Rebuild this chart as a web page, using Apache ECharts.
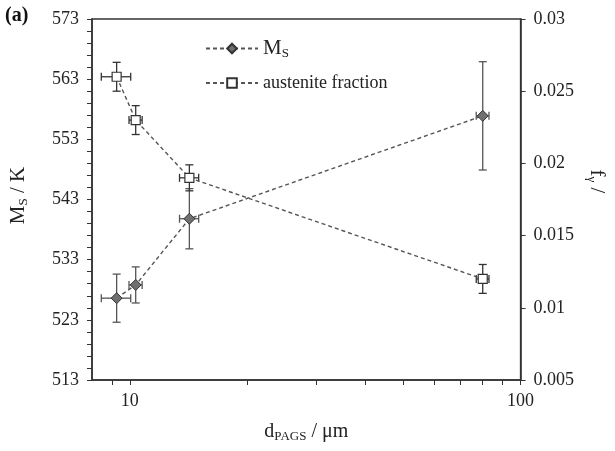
<!DOCTYPE html>
<html>
<head>
    <meta charset="utf-8">
    <title>Ms and austenite fraction vs PAGS</title>
    <script src="https://cdn.jsdelivr.net/npm/echarts@6/dist/echarts.min.js"></script>
    <style>
        html, body { margin: 0; padding: 0; background: #fff; }
        #chart { width: 615px; height: 451px; }
    </style>
</head>
<body>
<div id="chart"></div>
<script type="text/javascript">
    // ----- data -----
    var dPags = [9.25, 10.35, 14.2, 80];      // prior austenite grain size, um
    var dErr = [0.8, 0.4, 0.8, 3];
    var msVals = [526.6, 528.8, 539.8, 556.9]; // Ms, K
    var msErr = [4, 3, 5, 9];
    var fVals = [0.026, 0.023, 0.019, 0.012];  // austenite fraction
    var fErr = [0.001, 0.001, 0.0009, 0.001];

    var xLabels = [10, 100];
    var xTicks = [9, 10, 20, 30, 40, 50, 60, 70, 80, 90, 100];
    var msLabels = [513, 523, 533, 543, 553, 563, 573];

    var msMinor = [];
    for (var v = 513; v <= 573; v += 2) msMinor.push(v);

    var msData = dPags.map(function (d, i) { return [d, msVals[i]]; });
    var fData = dPags.map(function (d, i) { return [d, fVals[i]]; });
    var msBars = dPags.map(function (d, i) { return [d, msVals[i], dErr[i], msErr[i]]; });
    var fBars = dPags.map(function (d, i) { return [d, fVals[i], dErr[i], fErr[i]]; });

    var axisColor = '#333';
    var serif = 'Liberation Serif';

    // error bars with small caps
    function errorBars(color) {
        return function (params, api) {
            var x = api.value(0), y = api.value(1), dx = api.value(2), dy = api.value(3);
            var l = api.coord([x - dx, y]), r = api.coord([x + dx, y]);
            var t = api.coord([x, y + dy]), b = api.coord([x, y - dy]);
            var cap = 4;
            var st = { stroke: color, lineWidth: 1.3 };
            var seg = function (x1, y1, x2, y2) {
                return { type: 'line', shape: { x1: x1, y1: y1, x2: x2, y2: y2 }, style: st };
            };
            return {
                type: 'group',
                children: [
                    seg(l[0], l[1], r[0], r[1]),
                    seg(l[0], l[1] - cap, l[0], l[1] + cap),
                    seg(r[0], r[1] - cap, r[0], r[1] + cap),
                    seg(t[0], t[1], b[0], b[1]),
                    seg(t[0] - cap, t[1], t[0] + cap, t[1]),
                    seg(b[0] - cap, b[1], b[0] + cap, b[1])
                ]
            };
        };
    }

    var chart = echarts.init(document.getElementById('chart'));
    chart.setOption({
        animation: false,
        backgroundColor: '#fff',
        textStyle: { fontFamily: serif, color: '#222' },
        grid: {
            left: 92, right: 94, top: 19, bottom: 71,
            show: true, borderColor: axisColor, borderWidth: 1.5
        },
        graphic: [{
            type: 'text', left: 5, top: 6,
            style: { text: '(a)', font: 'bold 20px "Liberation Serif"', fill: '#111' }
        }],
        legend: {
            left: 200, top: 32, orient: 'vertical', itemGap: 14,
            itemWidth: 52, itemHeight: 12,
            data: ['Ms', 'austenite fraction'],
            formatter: function (name) {
                return name === 'Ms' ? '{m|M}{s|S}' : '{t|austenite fraction}';
            },
            textStyle: {
                fontFamily: serif, color: '#222',
                rich: {
                    m: { fontSize: 21, fontFamily: serif, lineHeight: 22 },
                    s: { fontSize: 13, fontFamily: serif, lineHeight: 22, padding: [10, 0, 0, 0] },
                    t: { fontSize: 18, fontFamily: serif, lineHeight: 22 }
                }
            }
        },
        xAxis: {
            type: 'log', logBase: 10, min: 8, max: 100,
            name: '{a|d}{b|PAGS}{a| / μm}',
            nameLocation: 'middle', nameGap: 40,
            nameTextStyle: {
                rich: {
                    a: { fontSize: 20, fontFamily: serif, color: '#222' },
                    b: { fontSize: 13, fontFamily: serif, color: '#222', padding: [10, 0, 0, 0] }
                }
            },
            axisLine: { lineStyle: { color: axisColor, width: 1.5 } },
            axisTick: { show: true, length: 5, inside: false, customValues: xTicks, lineStyle: { color: axisColor } },
            axisLabel: { customValues: xLabels, fontSize: 18, color: '#222', margin: 12, fontFamily: serif },
            splitLine: { show: false }
        },
        yAxis: [{
            type: 'value', min: 513, max: 573,
            name: '{a|M}{b|S}{a| / K}',
            nameLocation: 'middle', nameGap: 62,
            nameTextStyle: {
                padding: [0, 0, 0, 8],
                rich: {
                    a: { fontSize: 21, fontFamily: serif, color: '#222' },
                    b: { fontSize: 13, fontFamily: serif, color: '#222', padding: [10, 0, 0, 0] }
                }
            },
            axisLine: { show: true, lineStyle: { color: axisColor, width: 1.5 } },
            axisTick: { show: true, length: 5, customValues: msMinor, lineStyle: { color: axisColor } },
            axisLabel: { customValues: msLabels, fontSize: 18, color: '#222', margin: 13, fontFamily: serif },
            splitLine: { show: false }
        }, {
            type: 'value', min: 0.005, max: 0.03, interval: 0.005, position: 'right',
            name: '{a|f}{b|γ}{a| /}',
            nameLocation: 'middle', nameGap: 58, nameRotate: -90,
            nameTextStyle: {
                padding: [0, 36, 0, 0],
                rich: {
                    a: { fontSize: 21, fontFamily: serif, color: '#222' },
                    b: { fontSize: 13, fontFamily: serif, color: '#222', padding: [10, 0, 0, 0] }
                }
            },
            axisLine: { show: true, lineStyle: { color: axisColor, width: 1.5 } },
            axisTick: { show: true, length: 5, lineStyle: { color: axisColor } },
            axisLabel: { fontSize: 18, color: '#222', margin: 13, fontFamily: serif },
            splitLine: { show: false }
        }],
        series: [{
            type: 'custom', name: 'msErr', yAxisIndex: 0, z: 2,
            renderItem: errorBars('#555'), data: msBars
        }, {
            type: 'custom', name: 'fErr', yAxisIndex: 1, z: 2,
            renderItem: errorBars('#333'), data: fBars
        }, {
            name: 'Ms', type: 'line', yAxisIndex: 0, z: 3,
            data: msData,
            symbol: 'diamond', symbolSize: [11, 11],
            lineStyle: { color: '#555', width: 1.4, type: [4, 3] },
            itemStyle: { color: '#6f6f6f', borderColor: '#333', borderWidth: 1 }
        }, {
            name: 'austenite fraction', type: 'line', yAxisIndex: 1, z: 3,
            data: fData,
            symbol: 'rect', symbolSize: 9,
            lineStyle: { color: '#555', width: 1.4, type: [4, 3] },
            itemStyle: { color: '#fff', borderColor: '#333', borderWidth: 1.2 }
        }]
    });
</script>
</body>
</html>
